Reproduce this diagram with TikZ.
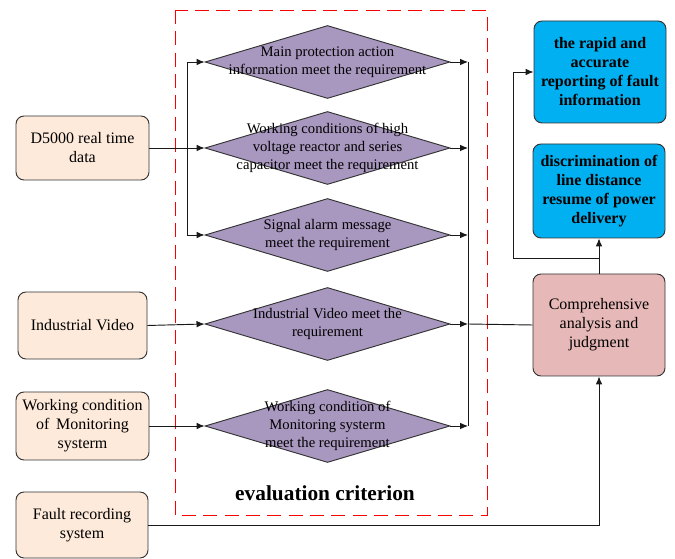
\documentclass[tikz,border=0pt]{standalone}
\usepackage{fontspec}
\setmainfont{Liberation Serif}
\usepackage{tikz}
\usetikzlibrary{shapes.geometric, arrows.meta}

\definecolor{critfill}{RGB}{168,151,190}
\definecolor{srcfill}{RGB}{253,234,218}
\definecolor{judgefill}{RGB}{230,184,183}
\definecolor{outfill}{RGB}{0,176,240}

\tikzset{
  >={Latex[length=6pt,width=5pt]},
  srcbox/.style={draw=black!80, line width=0.7pt, rounded corners=6pt, fill=srcfill,
    align=center, font=\fontsize{12}{14.25}\selectfont, inner sep=0pt},
  crit/.style={diamond, draw=black!80, line width=0.7pt, fill=critfill, inner sep=0pt,
    minimum width=183.75pt, minimum height=54.75pt},
  crittext/.style={align=center, font=\fontsize{11}{13.5}\selectfont, inner sep=0pt},
  outbox/.style={draw=black!80, line width=0.7pt, rounded corners=6pt, fill=outfill,
    align=center, font=\fontsize{12}{14.25}\selectfont\bfseries, inner sep=0pt},
  link/.style={line width=0.7pt, black!90}
}

\begin{document}
\begin{tikzpicture}[x=0.75pt,y=-0.75pt]
	\useasboundingbox (0,0) rectangle (675,559);
	
	% evaluation frame
	\draw[red, line width=0.7pt, dash pattern=on 10.5pt off 5.5pt] (175,10) rectangle (487,515);
	\node[font=\fontsize{16}{18}\selectfont\bfseries] (evaltitle) at (325,493) {evaluation criterion};
	
	% data sources
	\node[srcbox, minimum width=99.75pt, minimum height=48pt] (d5000) at (82.5,148) {D5000 real time\\data};
	\node[srcbox, minimum width=96.75pt, minimum height=50.25pt] (video) at (82.5,325.5) {Industrial Video};
	\node[srcbox, minimum width=99.75pt, minimum height=51pt] (monitor) at (82.5,426) {Working condition\\of\, Monitoring\\systerm};
	\node[srcbox, minimum width=99pt, minimum height=49.5pt] (fault) at (82,525) {Fault recording\\system};
	
	% criteria
	\node[crit] (c1) at (327.5,62) {};
	\node[crittext] at (c1) {Main protection action\\information meet the requirement};
	\node[crit] (c2) at (327.5,148) {};
	\node[crittext] at (c2) {Working conditions of high\\voltage reactor and series\\capacitor meet the requirement};
	\node[crit] (c3) at (327.5,235) {};
	\node[crittext] at (c3) {Signal alarm message\\meet the requirement};
	\node[crit] (c4) at (327.5,324) {};
	\node[crittext] at (c4) {Industrial Video meet the\\requirement};
	\node[crit] (c5) at (327.5,426) {};
	\node[crittext] at (c5) {Working condition of\\Monitoring systerm\\meet the requirement};
	
	% judgment and results
	\node[srcbox, fill=judgefill, minimum width=99pt, minimum height=76.5pt] (judge) at (599,325) {Comprehensive\\analysis and\\judgment};
	\node[outbox, minimum width=99pt, minimum height=76.5pt] (rapid) at (600,72) {the rapid and\\accurate\\reporting of fault\\information};
	\node[outbox, minimum width=99pt, minimum height=70.5pt] (discrim) at (599,191) {discrimination of\\line distance\\resume of power\\delivery};
	
	% inputs to criteria
	\coordinate (lb) at (187,148);
	\draw[link, ->] (d5000.east) -- (c2.west);
	\draw[link, ->] (lb) |- (c1.west);
	\draw[link, ->] (lb) |- (c3.west);
	\draw[link, ->] (video.east) -- (c4.west);
	\draw[link, ->] (monitor.east) -- (c5.west);
	
	% criteria to judgment
	\coordinate (rb) at (468,324);
	\foreach \c in {c1,c2,c3,c4,c5} {
		\draw[link, ->] (\c.east) -- (\c.east -| rb);
	}
	\draw[link] (rb |- c1.east) -- (rb |- c5.east);
	\draw[link] (rb) -- (judge.west);
	\draw[link, ->] (fault.east) -| (judge.south);
	
	% judgment to results
	\coordinate (up) at (513,258);
	\draw[link, ->] (judge.north) -- (discrim.south);
	\draw[link, ->] (judge.north |- up) -- (up) |- (rapid.west);
	
\end{tikzpicture}
\end{document}
